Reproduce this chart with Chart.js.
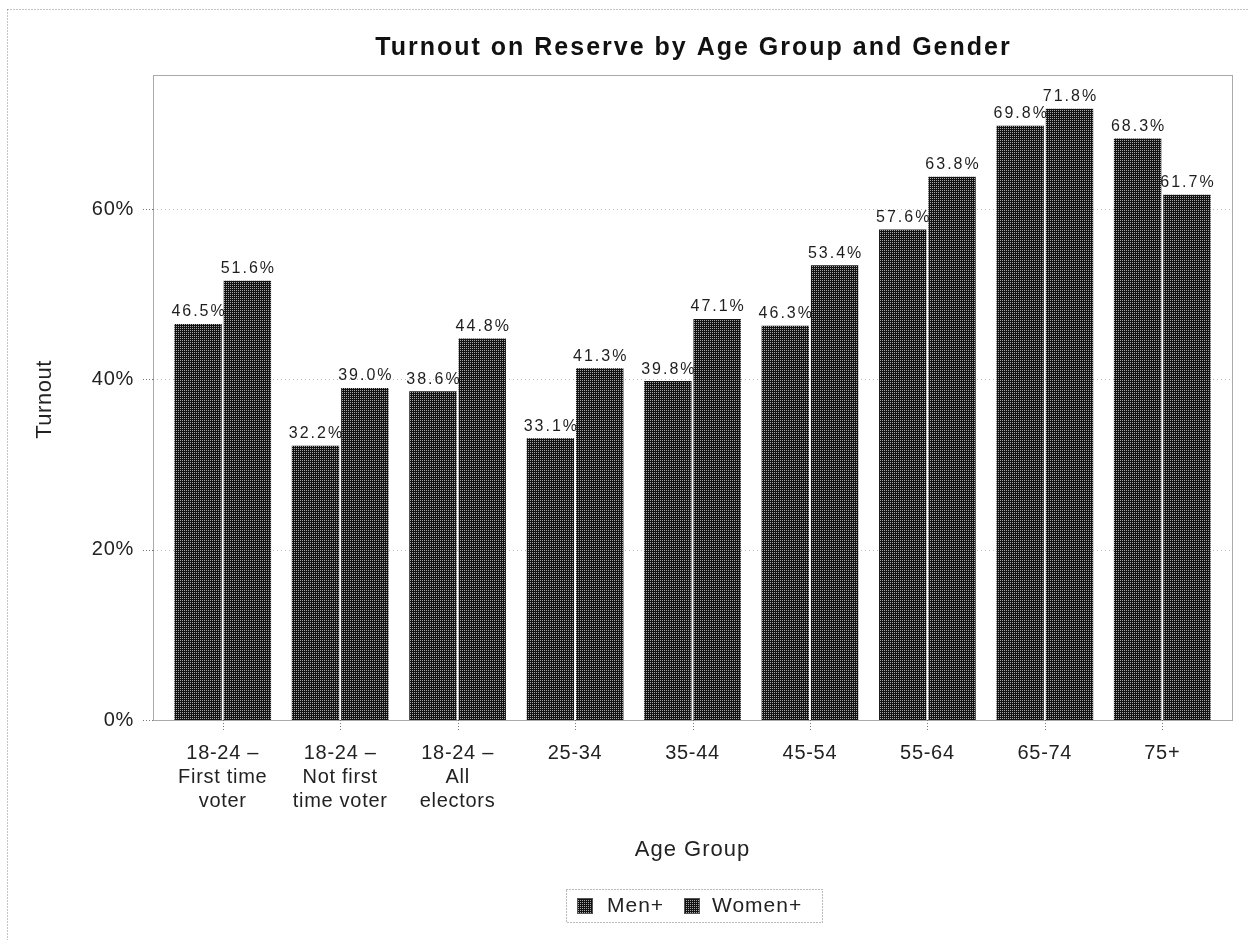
<!DOCTYPE html>
<html><head><meta charset="utf-8">
<script src="https://cdn.jsdelivr.net/npm/chart.js@4.4.1/dist/chart.umd.min.js"></script>
<style>html,body{margin:0;padding:0;background:#fff;} canvas{display:block;}</style>
</head><body>
<canvas id="c" width="1248" height="940"></canvas>
<script>
const categories = [["18-24 –","First time","voter"],["18-24 –","Not first","time voter"],["18-24 –","All","electors"],"25-34","35-44","45-54","55-64","65-74","75+"];
const seriesNames = ["Men+","Women+"];
const menValues = [46.5,32.2,38.6,33.1,39.8,46.3,57.6,69.8,68.3];
const womenValues = [51.6,39.0,44.8,41.3,47.1,53.4,63.8,71.8,61.7];
const yTickValues = [0,20,40,60];
const chartTitle = "Turnout on Reserve by Age Group and Gender";
const xTitle = "Age Group";
const yTitle = "Turnout";

const FONT = '"Liberation Sans", Arial, sans-serif';
const canvas = document.getElementById('c');
const ctx0 = canvas.getContext('2d');
function makePattern(){
  const p = document.createElement('canvas'); p.width = 2; p.height = 2;
  const g = p.getContext('2d');
  g.fillStyle = '#121212'; g.fillRect(0,0,2,2);
  g.fillStyle = '#a8a8a8'; g.fillRect(0,0,1,1);
  return ctx0.createPattern(p,'repeat');
}
const barFill = makePattern();

function dotted(ctx, color, dash){ ctx.strokeStyle = color; ctx.lineWidth = 1; ctx.setLineDash(dash); }
function line(ctx,x1,y1,x2,y2){ ctx.beginPath(); ctx.moveTo(x1,y1); ctx.lineTo(x2,y2); ctx.stroke(); }

const deco = {
  id: 'deco',
  beforeDraw(chart){ chart.ctx.letterSpacing = '0.7px'; },
  beforeDatasetsDraw(chart){
    const {ctx, chartArea:a, scales:{x,y}} = chart;
    const L = a.left - 11, R = a.right + 11;
    ctx.save();
    ctx.letterSpacing = '0px';
    dotted(ctx,'#8a8a8a',[1,2]);
    ctx.strokeRect(7.5, 9.5, 1270, 970);
    dotted(ctx,'#bcbcbc',[1,3]);
    yTickValues.forEach(v => {
      const py = Math.round(y.getPixelForValue(v)) + 0.5;
      if (v > 0) line(ctx, L, py, R, py);
    });
    ctx.restore();
  },
  afterDatasetsDraw(chart){
    const {ctx, chartArea:a, scales:{x,y}} = chart;
    const L = a.left - 11, R = a.right + 11;
    ctx.save();
    // frame
    dotted(ctx,'#555',[1,1]);
    ctx.strokeRect(Math.round(L)+0.5, Math.round(a.top)+0.5, Math.round(R-L), Math.round(a.bottom-a.top));
    // y tick marks
    dotted(ctx,'#777',[1,2]);
    yTickValues.forEach(v => {
      const py = Math.round(y.getPixelForValue(v)) + 0.5;
      line(ctx, L-10, py, L, py);
    });
    // x tick marks
    categories.forEach((c,i) => {
      const px = Math.round(x.getPixelForValue(i)) + 0.5;
      line(ctx, px, a.bottom, px, a.bottom + 10);
    });
    ctx.setLineDash([]);
    // data labels
    ctx.fillStyle = '#1e1e1e';
    ctx.font = '16px ' + FONT;
    ctx.letterSpacing = '2px';
    ctx.textAlign = 'center';
    ctx.textBaseline = 'middle';
    chart.data.datasets.forEach((ds, di) => {
      chart.getDatasetMeta(di).data.forEach((bar, i) => {
        ctx.fillText(ds.data[i].toFixed(1) + '%', bar.x + 1, bar.y - 12);
      });
    });
    // title
    ctx.fillStyle = '#111';
    ctx.font = 'bold 25px ' + FONT;
    ctx.letterSpacing = '2px';
    ctx.fillText(chartTitle, (L+R)/2 + 1, 48);
    // axis titles
    ctx.fillStyle = '#222';
    ctx.font = '22px ' + FONT;
    ctx.letterSpacing = '1px';
    ctx.fillText(xTitle, (L+R)/2, 850);
    ctx.save();
    ctx.translate(45, (a.top + a.bottom)/2 + 2);
    ctx.rotate(-Math.PI/2);
    ctx.letterSpacing = '0.5px';
    ctx.fillText(yTitle, 0, 0);
    ctx.restore();
    // legend
    dotted(ctx,'#777',[1,2]);
    ctx.strokeRect(566.5, 889.5, 256, 33);
    ctx.setLineDash([]);
    ctx.font = '21px ' + FONT;
    ctx.letterSpacing = '1px';
    ctx.textAlign = 'left';
    const items = [{box:577, text:607}, {box:684, text:712}];
    chart.data.datasets.forEach((ds, di) => {
      const it = items[di];
      ctx.fillStyle = ds.backgroundColor;
      ctx.fillRect(it.box, 898, 16, 16);
      ctx.strokeStyle = '#555'; ctx.lineWidth = 1;
      ctx.strokeRect(it.box + 0.5, 898.5, 15, 15);
      ctx.fillStyle = '#222';
      ctx.fillText(ds.label, it.text, 906);
    });
    ctx.restore();
  }
};

new Chart(canvas, {
  type: 'bar',
  data: {
    labels: categories,
    datasets: [
      { label: seriesNames[0], data: menValues, backgroundColor: barFill, borderWidth: 0 },
      { label: seriesNames[1], data: womenValues, backgroundColor: barFill, borderWidth: 0 }
    ]
  },
  options: {
    responsive: false,
    animation: false,
    devicePixelRatio: 1,
    events: [],
    categoryPercentage: 0.84,
    barPercentage: 0.96,
    layout: { padding: { left: 0, right: 27, top: 75, bottom: 0 } },
    plugins: { legend: { display: false }, title: { display: false }, tooltip: { enabled: false } },
    scales: {
      x: {
        grid: { display: false },
        border: { display: false },
        ticks: { color: '#222', font: { size: 20, family: FONT }, padding: 13, maxRotation: 0, minRotation: 0, autoSkip: false },
        afterFit(s){ s.height = 220; }
      },
      y: {
        min: 0, max: 75.75,
        grid: { display: false },
        border: { display: false },
        ticks: { color: '#222', font: { size: 20, family: FONT }, padding: 22, stepSize: 20, includeBounds: false,
          callback: v => v + '%' },
        afterFit(s){ s.width = 164; }
      }
    }
  },
  plugins: [deco]
});
</script>
</body></html>
